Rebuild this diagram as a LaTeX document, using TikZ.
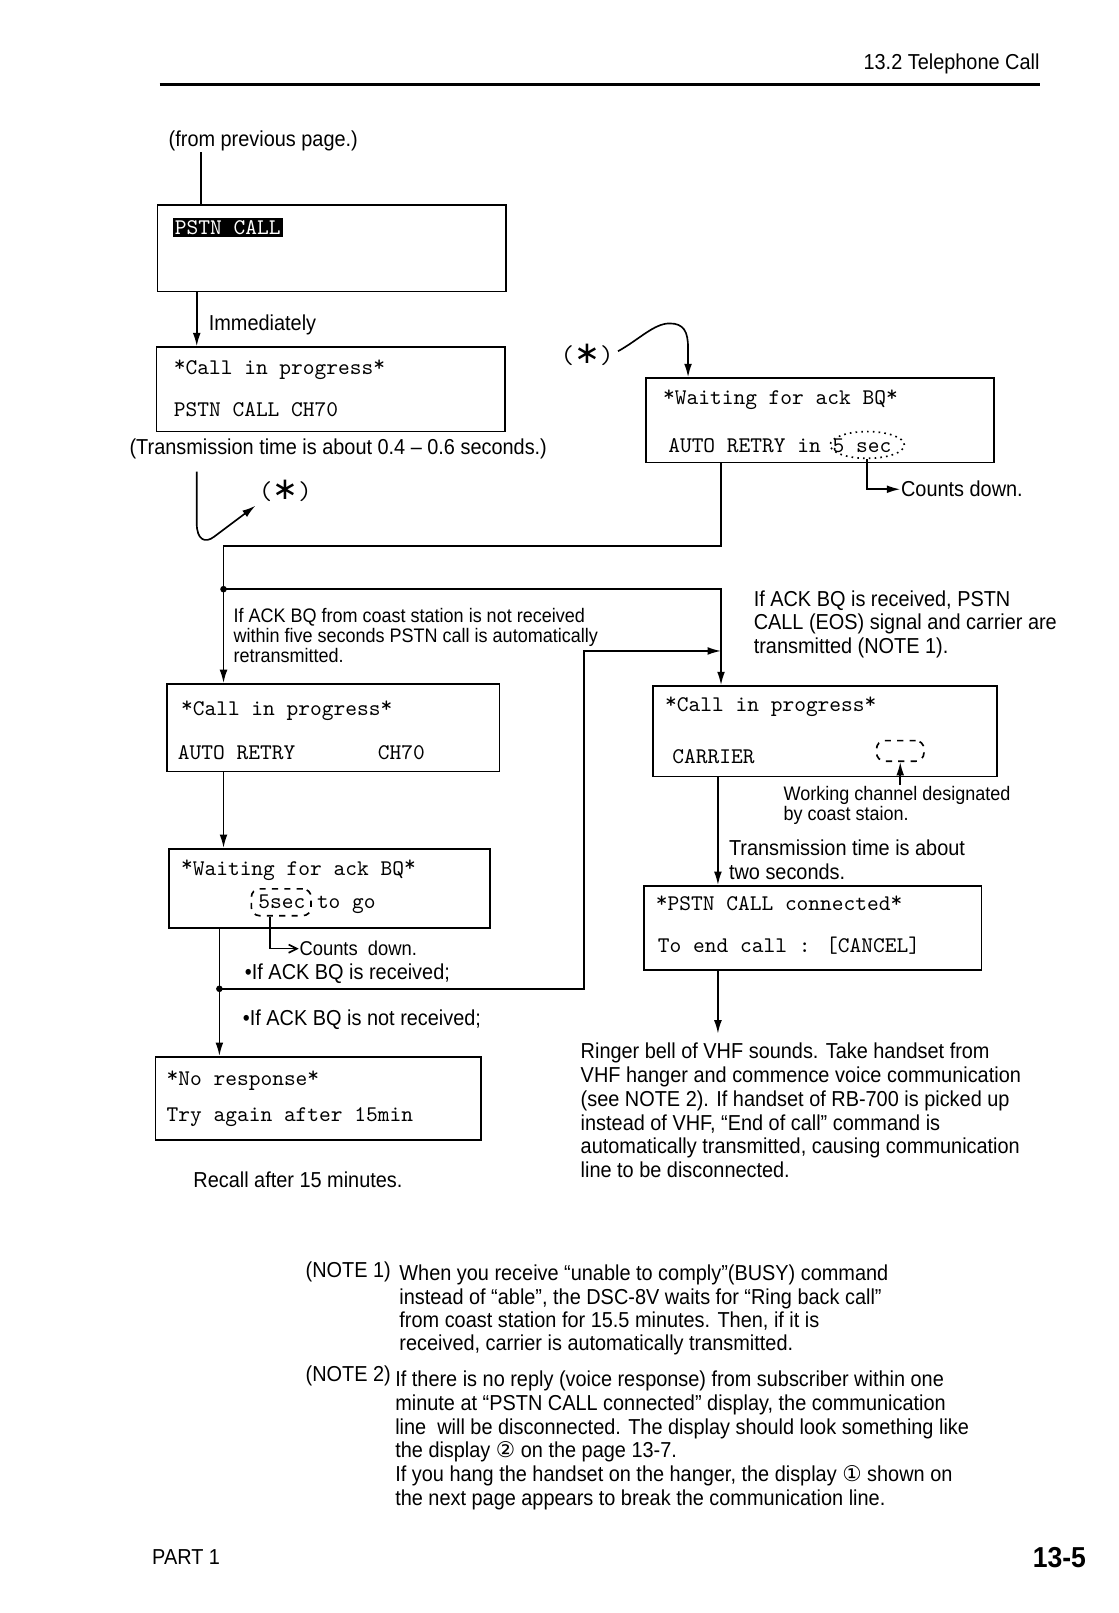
\documentclass[tikz,border=0pt]{standalone}
\usepackage{fontspec}
\setmainfont{Liberation Sans}[FakeStretch=0.92]
\newfontfamily\symfont{DejaVu Sans}
\usetikzlibrary{arrows.meta,shapes.geometric}
\newcommand{\st}{\raisebox{0.35ex}{*}}
\tikzstyle{disp}=[draw, thick, inner sep=0pt]
\tikzstyle{lcd}=[font=\fontsize{10.85}{11}\selectfont\ttfamily, anchor=west, inner sep=0pt]
\tikzstyle{txt}=[font=\fontsize{10.5}{11.6}\selectfont, anchor=west, inner sep=0pt, align=left]
\tikzstyle{sml}=[font=\fontsize{9.5}{9.5}\selectfont, anchor=west, inner sep=0pt, align=left]
\tikzstyle{star}=[font=\fontsize{12.5}{13}\selectfont\ttfamily, inner sep=0pt]
\tikzstyle{dot}=[circle, fill, inner sep=0pt, minimum size=3.2pt]

\begin{document}
\begin{tikzpicture}[x=0.5pt, y=-0.5pt, thick, >={Latex[length=6.5pt,width=3.8pt]}]
    \fill[white] (0,0) rectangle (1086,1566);
    \useasboundingbox (0,0) rectangle (1086,1566);
    % header
    \node[txt, anchor=east] (head) at (1010,62) {13.2 Telephone Call};
    \draw[line width=1.2pt] (155,82) -- (1010,82);
    \node[txt] (prev) at (163,137) {(from previous page.)};
    % displays
    \node[disp, minimum width=169pt, minimum height=42pt] (d1) at (322,241) {};
    \node[disp, minimum width=169pt, minimum height=41pt] (d2) at (321,378) {};
    \node[disp, minimum width=169pt, minimum height=41pt] (d3) at (796,408) {};
    \node[disp, minimum width=161.5pt, minimum height=42.5pt] (d4) at (323.5,706.5) {};
    \node[disp, minimum width=167pt, minimum height=44pt] (d5) at (801,710) {};
    \node[disp, minimum width=156pt, minimum height=38.5pt] (d6) at (320,862.5) {};
    \node[disp, minimum width=158pt, minimum height=40.5pt] (d7) at (309,1066.5) {};
    \node[disp, minimum width=164pt, minimum height=41pt] (d8) at (789,901) {};
    \node[lcd, fill=black, text=white, inner sep=1pt] (hl) at (167,221) {PSTN CALL};
    \node[lcd] (t2a) at (168,359) {\st Call in progress\st};
    \node[lcd] (t2b) at (168,398) {PSTN CALL CH70};
    \node[lcd] (t3a) at (643,388) {\st Waiting for ack BQ\st};
    \node[lcd] (t3b) at (648,433) {AUTO RETRY in 5 sec};
    \node[draw, dotted, ellipse, minimum width=36pt, minimum height=13pt, inner sep=0pt] (ring) at (842,432) {};
    \node[lcd] (t4a) at (175,690) {\st Call in progress\st};
    \node[lcd] (t4b) at (172,731) {AUTO RETRY};
    \node[lcd] (t4c) at (366,731) {CH70};
    \node[lcd] (t5a) at (645,686) {\st Call in progress\st};
    \node[lcd] (t5b) at (652,735) {CARRIER};
    \node[draw, dashed, rounded corners=4pt, minimum width=23pt, minimum height=10pt, inner sep=0pt] (chan) at (874,729) {};
    \node[lcd] (t6a) at (175,845) {\st Waiting for ack BQ\st};
    \node[lcd] (t6b) at (250,878) {5sec to go};
    \node[draw, dashed, rounded corners=4pt, minimum width=29pt, minimum height=13pt, inner sep=0pt] (tag) at (273,876) {};
    \node[lcd] (t7a) at (161,1049) {\st No response\st};
    \node[lcd] (t7b) at (161,1085) {Try again after 15min};
    \node[lcd] (t8a) at (636,877) {\st PSTN CALL connected\st};
    \node[lcd] (t8b) at (638,918) {To end call : [CANCEL]};
    % labels
    \node[txt] (imm) at (202,315) {Immediately};
    \node[txt] (trans) at (125,436) {(Transmission time is about 0.4 -- 0.6 seconds.)};
    \node[star] (ast1) at (277,477) {({\symfont\fontsize{15}{15}\selectfont ∗})};
    \node[star] (ast2) at (570,345) {({\symfont\fontsize{15}{15}\selectfont ∗})};
    \node[txt] (cnt) at (874,475) {Counts down.};
    \node[sml] (retry) at (226,617) {If ACK BQ from coast station is not received\\within five seconds PSTN call is automatically\\retransmitted.};
    \node[txt, font=\fontsize{10.5}{11.5}\selectfont] (eos) at (731,606) {If ACK BQ is received, PSTN\\CALL (EOS) signal and carrier are\\transmitted (NOTE 1).};
    \node[sml, font=\fontsize{9.5}{10}\selectfont] (wk) at (760,782) {Working channel designated\\by coast staion.};
    \node[txt] (two) at (707,834.5) {Transmission time is about\\two seconds.};
    \node[sml, font=\fontsize{9.7}{10}\selectfont] (cd2) at (290,921) {Counts~ down.};
    \node[txt] (yes) at (237,945) {•If ACK BQ is received;};
    \node[txt] (no) at (235,990) {•If ACK BQ is not received;};
    \node[txt] (recall) at (187,1145) {Recall after 15 minutes.};
    \node[txt] (bell) at (563,1078) {Ringer bell of VHF sounds. Take handset from\\VHF hanger and commence voice communication\\(see NOTE 2). If handset of RB-700 is picked up\\instead of VHF, “End of call” command is\\automatically transmitted, causing communication\\line to be disconnected.};
    \node[txt] (n1) at (296,1235) {(NOTE 1)};
    \node[txt, font=\fontsize{10.5}{11.35}\selectfont] (n1t) at (387,1272) {When you receive “unable to comply”(BUSY) command\\instead of “able”, the DSC-8V waits for “Ring back call”\\from coast station for 15.5 minutes. Then, if it is\\received, carrier is automatically transmitted.};
    \node[txt] (n2) at (296,1336) {(NOTE 2)};
    \node[txt, font=\fontsize{10.5}{11.5}\selectfont] (n2t) at (383,1398.5) {If there is no reply (voice response) from subscriber within one\\minute at “PSTN CALL connected” display, the communication\\line~ will be disconnected. The display should look something like\\the display {\symfont ②} on the page 13-7.\\If you hang the handset on the hanger, the display {\symfont ①} shown on\\the next page appears to break the communication line.};
    \node[txt] (part) at (147,1512) {PART 1};
    \node[txt, anchor=east, font=\fontsize{14}{15}\selectfont\bfseries] (page) at (1055,1512) {13-5};
    % connectors
    \coordinate (xa) at (195,0);
    \coordinate (xb) at (191,0);
    \coordinate (xk) at (668,0);
    \coordinate (xr) at (700,0);
    \coordinate (xl) at (217,0);
    \coordinate (xm) at (213,0);
    \coordinate (xn) at (567,0);
    \coordinate (xs) at (697,0);
    \coordinate (y1) at (0,530);
    \coordinate (y2) at (0,632);
    \coordinate (h0) at (191,458);
    \coordinate (h1) at (248,491);
    \coordinate (k0) at (600,341);
    \node[dot] (j1) at (217,572) {};
    \node[dot] (j2) at (213,960) {};
    \draw (prev.south -| xa) -- (d1.north -| xa);
    \draw[->] (d1.south -| xb) -- (d2.north -| xb);
    \draw[->] (h0) -- (191,508) .. controls (191,524) and (199,528) .. (208,521) -- (h1);
    \draw[->] (k0) .. controls (620,330) and (635,314) .. (650,314) .. controls (664,314) and (668,322) .. (668,338) -- (d3.north -| xk);
    \draw[->] (ring.south) |- (cnt.west);
    \draw (d3.south -| xr) |- (y1 -| xl) -- (j1.center);
    \draw[->] (j1.center) -- (d4.north -| xl);
    \draw[->] (j1.center) -| (d5.north -| xr);
    \draw[->] (d4.south -| xl) -- (d6.north -| xl);
    \draw[-{Straight Barb[length=4pt,width=4pt]}] ([xshift=-5.5pt]tag.south) |- (cd2.west);
    \draw (d6.south -| xm) -- (j2.center);
    \draw[->] (j2.center) -- (d7.north -| xm);
    \draw[->] (j2.center) -| (y2 -| xn) -- (y2 -| xr);
    \draw[->] (wk.north -| chan) -- (chan.south);
    \draw[->] (d5.south -| xs) -- (d8.north -| xs);
    \draw[->] (d8.south -| xs) -- ([yshift=4pt]bell.north -| xs);
\end{tikzpicture}
\end{document}
